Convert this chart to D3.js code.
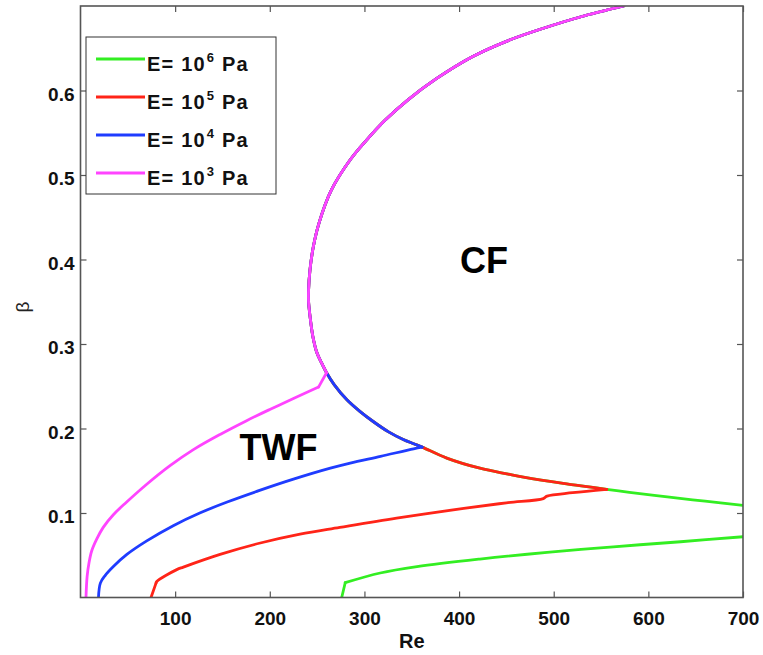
<!DOCTYPE html>
<html>
<head>
<meta charset="utf-8">
<script src="https://cdn.jsdelivr.net/npm/d3@7"></script>
<style>
  html, body { margin: 0; padding: 0; background: #fff; }
  svg { display: block; }
  text { font-family: "Liberation Sans", Arial, Helvetica, sans-serif; }
</style>
</head>
<body>
<svg id="chart" width="763" height="655"></svg>
<script>
// ---------- data ----------
// Shared CF boundary, upper branch (from top of plot, round the nose, down to the junction)
const cfUpperRe   = [574, 528, 490, 454, 414, 376, 346, 322, 302, 285, 265, 252, 246, 242.5, 241, 241, 242.5, 245.5, 250, 255, 260];
const cfUpperBeta = [0.700, 0.687, 0.674, 0.660, 0.640, 0.614, 0.589, 0.565, 0.541, 0.518, 0.482, 0.443, 0.415, 0.388, 0.364, 0.350, 0.333, 0.309, 0.289, 0.277, 0.266];
// CF boundary, lower branch (from the junction towards large Re)
const cfLowerRe   = [260, 268, 281.5, 295.5, 309.6, 325.5, 341, 352, 361, 387, 422, 452, 468, 510, 556, 580, 620, 660, 700];
const cfLowerBeta = [0.266, 0.252, 0.234, 0.220, 0.208, 0.196, 0.187, 0.182, 0.178, 0.165, 0.153, 0.146, 0.1425, 0.135, 0.128, 0.1245, 0.119, 0.114, 0.109];

// TWF branches (from the tip on the CF boundary down to beta = 0)
const twfE3Re   = [260, 251.5, 225, 200, 175, 147.5, 119.3, 94.6, 70, 48.8, 34.7, 24, 17.1, 11.8, 9, 7, 5.8];
const twfE3Beta = [0.266, 0.249, 0.2355, 0.2225, 0.209, 0.193, 0.175, 0.156, 0.134, 0.113, 0.098, 0.083, 0.069, 0.055, 0.041, 0.025, 0.000];
const twfE4Re   = [361, 352, 317, 285, 264, 225, 190, 155, 126, 98, 70, 49, 35, 26, 21, 19];
const twfE4Beta = [0.178, 0.176, 0.167, 0.159, 0.153, 0.140, 0.127, 0.113, 0.100, 0.085, 0.067, 0.051, 0.037, 0.026, 0.017, 0.000];
const twfE5Re   = [556, 520, 493, 489, 450, 405, 334, 274, 232, 190, 147.5, 108.7, 101.7, 80.6, 79.8, 74.5];
const twfE5Beta = [0.128, 0.124, 0.120, 0.117, 0.112, 0.1055, 0.094, 0.083, 0.075, 0.0645, 0.051, 0.036, 0.033, 0.019, 0.017, 0.000];
const twfE6Re   = [700.9, 634, 563, 493, 422, 355.5, 316.7, 279.7, 276];
const twfE6Beta = [0.072, 0.066, 0.060, 0.0535, 0.0455, 0.0365, 0.029, 0.0175, 0.000];

const seriesNames  = ["E6", "E5", "E4", "E3"];
const legendBase   = ["E= 10", "E= 10", "E= 10", "E= 10"];
const legendExp    = ["6", "5", "4", "3"];
const seriesColors = ["#33ee22", "#ff2418", "#1f3cff", "#ff44ff"];

const xTicks = [100, 200, 300, 400, 500, 600, 700];
const yTicks = [0.1, 0.2, 0.3, 0.4, 0.5, 0.6];
const xDomain = [0, 700];
const yDomain = [0, 0.7];

// ---------- layout ----------
const svg = d3.select("#chart");
const L = 80.5, R = 743, T = 6, B = 597.5;
const x = d3.scaleLinear().domain(xDomain).range([L, R]);
const y = d3.scaleLinear().domain(yDomain).range([B, T]);

const zip = (a, b) => a.map((v, i) => [v, b[i]]);
const cfUpper = zip(cfUpperRe, cfUpperBeta);
const cfLower = zip(cfLowerRe, cfLowerBeta);
const twf = {
  E3: zip(twfE3Re, twfE3Beta),
  E4: zip(twfE4Re, twfE4Beta),
  E5: zip(twfE5Re, twfE5Beta),
  E6: zip(twfE6Re, twfE6Beta)
};

// Split a polyline into smooth pieces at sharp corners (kinks); each piece is smoothed separately.
function pieces(name) {
  const out = [];
  if (name === "E6") {
    out.push(cfUpper.concat(cfLower.slice(1)));
    const t = twf.E6;
    out.push(t.slice(0, t.length - 1));
    out.push(t.slice(t.length - 2));
    return out;
  }
  const t = twf[name];
  const tipRe = t[0][0];
  const lower = cfLower.filter(d => d[0] > 260 && d[0] < tipRe);
  out.push(cfUpper.concat(lower, [t[0]]));
  if (name === "E3") {
    out.push(t.slice(0, 2));
    out.push(t.slice(1));
  } else if (name === "E5") {
    out.push(t.slice(0, t.length - 1));
    out.push(t.slice(t.length - 2));
  } else {
    out.push(t);
  }
  return out;
}

const line = d3.line().x(d => x(d[0])).y(d => y(d[1])).curve(d3.curveCatmullRom.alpha(0.5));

svg.append("defs").append("clipPath").attr("id", "plotclip")
  .append("rect").attr("x", L).attr("y", T).attr("width", R - L).attr("height", B - T);

const plot = svg.append("g").attr("clip-path", "url(#plotclip)");
seriesNames.forEach((name, i) => {
  pieces(name).forEach(p => {
    plot.append("path")
      .attr("d", line(p))
      .attr("fill", "none")
      .attr("stroke", seriesColors[i])
      .attr("stroke-width", 2.8)
      .attr("stroke-linejoin", "round")
      .attr("stroke-linecap", "round");
  });
});

// ---------- axes (box with inward ticks) ----------
const axisColor = "#555";
const fontTick = 19;

const gx = svg.append("g").attr("transform", `translate(0,${B})`)
  .call(d3.axisBottom(x).tickValues(xTicks).tickSizeInner(-6).tickSizeOuter(0).tickPadding(14).tickFormat(d3.format("d")));
const gxt = svg.append("g").attr("transform", `translate(0,${T})`)
  .call(d3.axisTop(x).tickValues(xTicks).tickSizeInner(-6).tickSizeOuter(0).tickFormat(""));
const gy = svg.append("g").attr("transform", `translate(${L},0)`)
  .call(d3.axisLeft(y).tickValues(yTicks).tickSizeInner(-6).tickSizeOuter(0).tickPadding(6).tickFormat(d3.format(".1f")));
const gyr = svg.append("g").attr("transform", `translate(${R},0)`)
  .call(d3.axisRight(y).tickValues(yTicks).tickSizeInner(-6).tickSizeOuter(0).tickFormat(""));

[gx, gxt, gy, gyr].forEach(g => {
  g.select(".domain").remove();
  g.selectAll(".tick line").attr("stroke", axisColor).attr("stroke-width", 1.2);
  g.selectAll(".tick text")
    .attr("fill", "#111")
    .attr("font-size", fontTick)
    .attr("font-weight", "bold")
    .attr("font-family", "'Liberation Sans', Arial, Helvetica, sans-serif");
});
gy.selectAll(".tick text").attr("dy", "0.5em");

svg.append("rect")
  .attr("x", L).attr("y", T).attr("width", R - L).attr("height", B - T)
  .attr("fill", "none").attr("stroke", axisColor).attr("stroke-width", 1.6);

// axis titles
svg.append("text")
  .attr("x", (L + R) / 2).attr("y", 648)
  .attr("text-anchor", "middle")
  .attr("font-size", 20).attr("font-weight", "bold").attr("fill", "#111")
  .text("Re");

svg.append("text")
  .attr("transform", "translate(29,307) rotate(-90)")
  .attr("text-anchor", "middle")
  .attr("font-size", 19).attr("fill", "#222")
  .text("β");

// region labels
svg.append("text").attr("x", x(168)).attr("y", 460)
  .attr("font-size", 36).attr("font-weight", "bold").attr("fill", "#000").text("TWF");
svg.append("text").attr("x", x(401)).attr("y", 273)
  .attr("font-size", 36).attr("font-weight", "bold").attr("fill", "#000").text("CF");

// ---------- legend ----------
const lg = svg.append("g");
lg.append("rect").attr("x", 86).attr("y", 37).attr("width", 190).attr("height", 157)
  .attr("fill", "#fff").attr("stroke", "#333").attr("stroke-width", 1);
seriesNames.forEach((name, i) => {
  const ly = 59 + i * 38;
  lg.append("line").attr("x1", 96).attr("x2", 145).attr("y1", ly).attr("y2", ly)
    .attr("stroke", seriesColors[i]).attr("stroke-width", 2.8);
  const t = lg.append("text").attr("x", 147).attr("y", ly + 12)
    .attr("font-size", 20).attr("font-weight", "bold").attr("fill", "#111")
    .attr("letter-spacing", "1.2px");
  t.append("tspan").text(legendBase[i]);
  t.append("tspan").attr("dy", -9).attr("dx", 1).attr("font-size", 13).text(legendExp[i]);
  t.append("tspan").attr("dy", 9).text(" Pa");
});
</script>
</body>
</html>
